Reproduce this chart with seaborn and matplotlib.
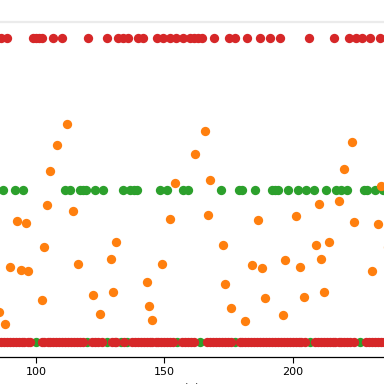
import matplotlib
matplotlib.use("Agg")
import matplotlib.pyplot as plt
import seaborn as sns
import pandas as pd

# ---- data ----
top_red_x = [86.4, 88.7, 98.8, 100.0, 101.2, 102.3, 106.6, 110.1, 120.2, 127.6,
             131.9, 133.9, 135.8, 139.7, 141.6, 147.1, 149.4, 152.1, 154.5, 157.2,
             159.9, 161.5, 163.0, 164.6, 169.3, 175.1, 177.4, 182.1, 187.2, 191.1,
             194.9, 206.2, 216.0, 221.8, 224.5, 226.9, 230.0, 233.9]

mid_green_x = [87.2, 91.8, 94.9, 111.3, 113.2, 117.1, 118.3, 119.5, 123.0, 126.1,
               133.9, 136.6, 138.1, 139.3, 148.2, 151.0, 157.2, 159.1, 172.0, 179.0,
               180.2, 185.2, 191.8, 193.0, 194.2, 198.1, 201.9, 205.1, 208.2, 212.8,
               216.7, 218.7, 221.0, 227.6, 228.8, 231.9, 235.0]

bottom_green_x = [100.0, 120.0, 127.5, 133.0, 135.5, 155.0, 164.0, 177.5, 206.5, 226.0]

bottom_red_x = [84, 85.2, 86.3, 87.5, 88.6, 89.8, 90.9, 92.1, 93.2, 94.4, 95.5, 96.7,
                97.8, 102.2, 103.3, 104.5, 105.6, 106.8, 107.9, 109.1, 110.2, 111.4,
                112.5, 113.7, 114.8, 116.0, 117.1, 118.2, 121.8, 123.0, 124.1, 125.6,
                129.4, 130.7, 131.3, 134.2, 137.3, 138.4, 139.6, 140.7, 141.9, 143.0,
                144.2, 145.3, 146.5, 147.6, 148.8, 149.9, 151.1, 152.2, 153.3, 156.8,
                157.9, 159.1, 160.2, 161.4, 166.6, 167.8, 168.9, 170.1, 171.2, 172.4,
                173.5, 174.7, 175.8, 179.2, 180.3, 181.5, 182.6, 183.8, 184.9, 186.1,
                187.2, 188.4, 189.5, 190.7, 191.8, 193.0, 194.1, 195.3, 196.4, 197.6,
                198.7, 199.9, 201.0, 202.2, 203.3, 204.5, 208.5, 209.6, 210.8, 211.9,
                213.1, 214.2, 215.4, 216.5, 217.7, 218.8, 220.0, 221.1, 222.3, 223.6,
                228.4, 229.6, 230.7, 231.9, 233.0, 234.2, 235.3, 236.5]

orange_x = [112.1, 108.2, 105.5, 92.6, 96.1, 104.3, 114.4, 103.1, 131.1, 129.2,
            152.1, 154.1, 161.9, 165.8, 167.7, 222.9, 219.8, 234.2, 210.1, 217.9,
            166.9, 186.4, 201.2, 223.6, 233.1, 172.8, 208.9, 214.0, 85.6, 88.0,
            89.9, 94.2, 96.9, 102.3, 116.3, 122.2, 124.9, 129.9, 143.2, 144.0,
            145.1, 149.0, 173.6, 184.0, 187.9, 175.9, 181.3, 189.1, 196.1, 196.9,
            202.7, 204.3, 210.9, 212.1, 230.7, 236.9]
orange_y = [0.717, 0.648, 0.562, 0.398, 0.391, 0.451, 0.431, 0.312, 0.329, 0.273,
            0.405, 0.523, 0.618, 0.694, 0.533, 0.658, 0.569, 0.513, 0.454, 0.464,
            0.418, 0.401, 0.414, 0.395, 0.388, 0.319, 0.319, 0.329, 0.099, 0.059,
            0.247, 0.237, 0.234, 0.138, 0.257, 0.155, 0.092, 0.164, 0.197, 0.118,
            0.072, 0.257, 0.191, 0.253, 0.243, 0.112, 0.069, 0.145, 0.089, 0.270,
            0.247, 0.148, 0.273, 0.164, 0.234, 0.312]

# ---- build long-form table ----
frames = [
    pd.DataFrame({"x": mid_green_x, "y": [0.5] * len(mid_green_x), "g": "green"}),
    pd.DataFrame({"x": bottom_green_x, "y": [0.0] * len(bottom_green_x), "g": "green"}),
    pd.DataFrame({"x": orange_x, "y": orange_y, "g": "orange"}),
    pd.DataFrame({"x": top_red_x, "y": [1.0] * len(top_red_x), "g": "red"}),
    pd.DataFrame({"x": bottom_red_x, "y": [0.0] * len(bottom_red_x), "g": "red"}),
]
df = pd.concat(frames, ignore_index=True)

sns.set_style("white")
fig = plt.figure(figsize=(3.84, 3.84), dpi=100)
ax = fig.add_axes([0.0, 0.0703, 1.0, 0.8724])

palette = {"green": "#2ca02c", "orange": "#ff7f0e", "red": "#d62728"}
for grp in ["green", "orange", "red"]:
    sub = df[df["g"] == grp]
    sns.scatterplot(data=sub, x="x", y="y", color=palette[grp], s=45,
                    linewidth=0, ax=ax, legend=False)

ax.set_xlim(86.0, 235.4)
ax.set_ylim(-0.049, 1.053)
ax.set_yticks([])
ax.set_ylabel("")
ax.set_xticks([100, 150, 200])
ax.tick_params(axis="x", labelsize=8, length=4, width=0.8, colors="black", bottom=True)
ax.set_xlabel("(x)", fontsize=8, labelpad=4)
for side in ["left", "right"]:
    ax.spines[side].set_visible(False)
ax.spines["top"].set_color("#ebebeb")
ax.spines["top"].set_linewidth(1.6)
ax.spines["bottom"].set_color("black")
ax.spines["bottom"].set_linewidth(0.9)

fig.savefig("out.png", dpi=100)
